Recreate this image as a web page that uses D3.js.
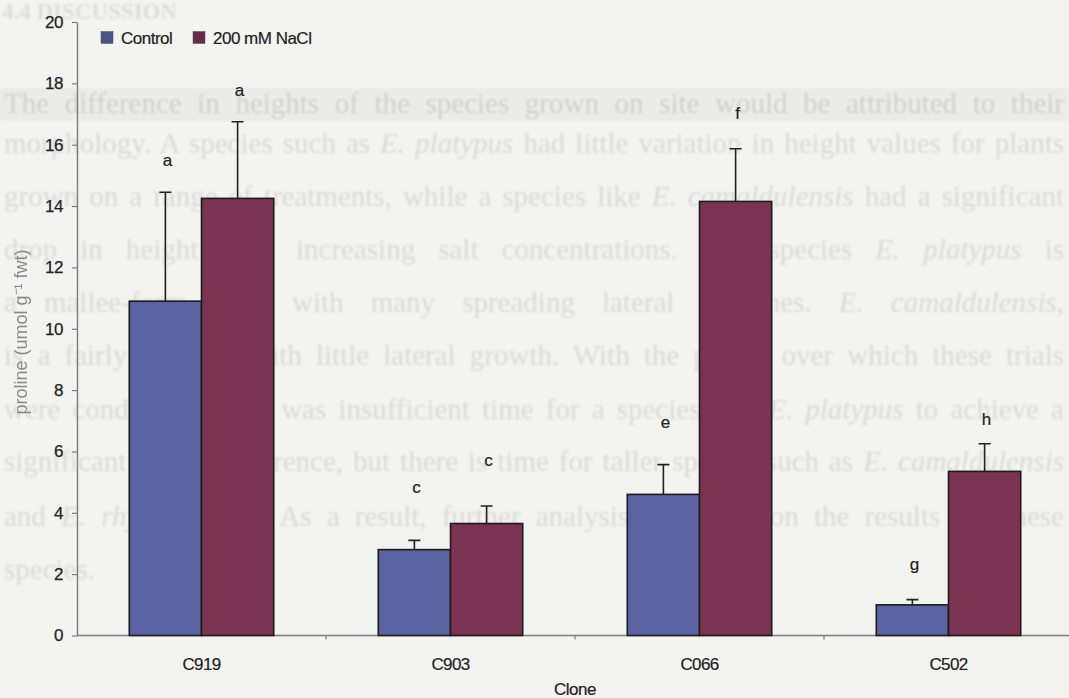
<!DOCTYPE html>
<html>
<head>
<meta charset="utf-8">
<script src="https://cdn.jsdelivr.net/npm/d3@7"></script>
<style>
  html, body { margin: 0; padding: 0; background: #f3f3ef; }
  svg { display: block; }
  .sans { font-family: "Liberation Sans", Arial, Helvetica, sans-serif; }
</style>
</head>
<body>
<svg id="chart" width="1069" height="698"></svg>
<script>
// Proline content of four clones, control vs salt treatment
const clones = ["C919", "C903", "C066", "C502"];
const seriesNames = ["Control", "200 mM NaCl"];
const controlMean = [10.9, 2.8, 4.6, 1.0];
const controlErr  = [3.55, 0.3, 0.97, 0.17];
const naclMean    = [14.25, 3.65, 14.15, 5.35];
const naclErr     = [2.5, 0.57, 1.72, 0.9];
// significance letters and the height (in axis units) they sit at
const controlLetters = ["a", "c", "e", "g"];
const naclLetters    = ["a", "c", "f", "h"];
const controlLetterY = [15.3, 4.65, 6.77, 2.15];
const naclLetterY    = [17.6, 5.53, 16.85, 6.87];
const yTicks = [0, 2, 4, 6, 8, 10, 12, 14, 16, 18, 20];
const yTitle = "proline (umol g\u207B\u00B9 fwt)";
const xTitle = "Clone";

// printed page text lying underneath the figure (italic parts flagged true)
const pageHeading = "4.4 DISCUSSION";
const pageLines = [
  { y: 113, justify: true, band: true, parts: [["The difference in heights of the species grown on site would be attributed to their", false]] },
  { y: 153, justify: true, parts: [["morphology. A species such as ", false], ["E. platypus", true], [" had little variation in height values for plants", false]] },
  { y: 206, justify: true, parts: [["grown on a range of treatments, while a species like ", false], ["E. camaldulensis", true], [" had a significant", false]] },
  { y: 259, justify: true, parts: [["drop in height with increasing salt concentrations. The species ", false], ["E. platypus", true], [" is", false]] },
  { y: 312, justify: true, parts: [["a mallee-form tree, with many spreading lateral branches. ", false], ["E. camaldulensis", true], [",", false]] },
  { y: 365, justify: true, parts: [["is a fairly tall tree with little lateral growth. With the period over which these trials", false]] },
  { y: 419, justify: true, parts: [["were conducted, there was insufficient time for a species like ", false], ["E. platypus", true], [" to achieve a", false]] },
  { y: 471, justify: true, parts: [["significant height difference, but there is time for taller species such as ", false], ["E. camaldulensis", true]] },
  { y: 526, justify: true, parts: [["and ", false], ["E. rhynchocorys", true], [". As a result, further analysis is placed on the results for these", false]] },
  { y: 579, justify: false, parts: [["species.", false]] }
];

const svg = d3.select("#chart");
const W = 1069, H = 698;

const defs = svg.append("defs");
defs.append("filter").attr("id", "soft")
  .attr("x", "-5%").attr("y", "-20%").attr("width", "110%").attr("height", "140%")
  .append("feGaussianBlur").attr("stdDeviation", 1.2);
defs.append("filter").attr("id", "softer").append("feGaussianBlur").attr("stdDeviation", 0.6);

svg.append("rect").attr("width", W).attr("height", H).attr("fill", "#f3f3ef");

// faint printed page
const page = svg.append("g").attr("filter", "url(#soft)")
  .style("font-family", "'Liberation Serif', 'Times New Roman', serif");

page.append("rect")
  .attr("x", 0).attr("y", 88).attr("width", W).attr("height", 33)
  .attr("fill", "#ebebe7");

page.append("text")
  .attr("x", 2).attr("y", 19)
  .attr("font-size", 23).attr("font-weight", "bold")
  .attr("fill", "#dededa")
  .text(pageHeading);

const lineLeft = 4, lineWidth = 1060;
pageLines.forEach(l => {
  const t = page.append("text")
    .attr("x", lineLeft).attr("y", l.y)
    .attr("font-size", 29)
    .attr("fill", l.band ? "#d0d0cc" : "#dbdbd7");
  l.parts.forEach(p => t.append("tspan").attr("font-style", p[1] ? "italic" : "normal").text(p[0]));
  if (l.justify) {
    // justify by widening the word gaps
    const natural = t.node().getComputedTextLength();
    const gaps = l.parts.map(p => p[0]).join("").split(" ").length - 1;
    const extra = (lineWidth - natural) / Math.max(gaps, 1);
    if (extra > 0) t.attr("word-spacing", extra);
    else t.attr("textLength", lineWidth).attr("lengthAdjust", "spacingAndGlyphs");
  }
});

// scales
const y = d3.scaleLinear().domain([0, 20]).range([635.5, 22]);
const x = d3.scaleBand().domain(clones).range([77, 1073]).paddingInner(0.42).paddingOuter(0.21);
const xs = d3.scaleBand().domain(seriesNames).range([0, x.bandwidth()]);
const color = d3.scaleOrdinal().domain(seriesNames).range(["#5a62a1", "#7b3352"]);

const rows = clones.map((c, i) => ({
  clone: c,
  values: [
    { s: seriesNames[0], v: controlMean[i], e: controlErr[i], l: controlLetters[i], ly: controlLetterY[i] },
    { s: seriesNames[1], v: naclMean[i], e: naclErr[i], l: naclLetters[i], ly: naclLetterY[i] }
  ]
}));

const chart = svg.append("g").attr("class", "sans");

// y axis
const yAxis = chart.append("g")
  .attr("transform", "translate(77,0)")
  .call(d3.axisLeft(y).tickValues(yTicks).tickSize(5).tickSizeOuter(0).tickPadding(9));
yAxis.select(".domain").attr("stroke", "#7c7c7c").attr("stroke-width", 1.4);
yAxis.selectAll(".tick line").attr("stroke", "#7c7c7c").attr("stroke-width", 1.2);
yAxis.selectAll(".tick text")
  .attr("fill", "#222").attr("font-size", 17).attr("letter-spacing", "-0.4px")
  .attr("stroke", "#222").attr("stroke-width", 0.25)
  .style("font-family", "'Liberation Sans', Arial, sans-serif");

// x axis: clone names at the centres, tick marks between groups
const xAxis = chart.append("g")
  .attr("transform", `translate(0,${y(0)})`)
  .call(d3.axisBottom(x).tickSize(0).tickPadding(22));
xAxis.select(".domain").remove();
xAxis.selectAll(".tick text")
  .attr("fill", "#222").attr("font-size", 17).attr("letter-spacing", "-0.6px")
  .attr("stroke", "#222").attr("stroke-width", 0.2)
  .style("font-family", "'Liberation Sans', Arial, sans-serif");
xAxis.append("line")
  .attr("x1", 77).attr("x2", W).attr("y1", 0).attr("y2", 0)
  .attr("stroke", "#7c7c7c").attr("stroke-width", 1.4);
xAxis.selectAll(".sep")
  .data(clones.slice(1))
  .join("line")
  .attr("class", "sep")
  .attr("x1", d => x(d) - x.step() * x.paddingInner() / 2)
  .attr("x2", d => x(d) - x.step() * x.paddingInner() / 2)
  .attr("y1", 0).attr("y2", 4)
  .attr("stroke", "#7c7c7c").attr("stroke-width", 1.2);

// bars, error bars and letters
const groups = chart.selectAll(".grp")
  .data(rows)
  .join("g")
  .attr("class", "grp")
  .attr("transform", d => `translate(${x(d.clone)},0)`);

groups.selectAll("rect")
  .data(d => d.values)
  .join("rect")
  .attr("x", d => xs(d.s))
  .attr("y", d => y(d.v))
  .attr("width", xs.bandwidth())
  .attr("height", d => y(0) - y(d.v))
  .attr("fill", d => color(d.s))
  .attr("stroke", "#1c1c1c")
  .attr("stroke-width", 1.6);

const cap = 6;
groups.selectAll(".err")
  .data(d => d.values)
  .join("path")
  .attr("class", "err")
  .attr("d", d => {
    const cx = xs(d.s) + xs.bandwidth() / 2;
    return `M${cx},${y(d.v)}V${y(d.v + d.e)}M${cx - cap},${y(d.v + d.e)}H${cx + cap}`;
  })
  .attr("fill", "none")
  .attr("stroke", "#222")
  .attr("stroke-width", 1.6);

groups.selectAll(".letter")
  .data(d => d.values)
  .join("text")
  .attr("class", "letter")
  .attr("x", d => xs(d.s) + xs.bandwidth() / 2 + 2)
  .attr("y", d => y(d.ly))
  .attr("text-anchor", "middle")
  .attr("font-size", 17)
  .attr("fill", "#222")
  .attr("stroke", "#222").attr("stroke-width", 0.2)
  .text(d => d.l);

// axis titles
chart.append("text")
  .attr("transform", `translate(27,${332}) rotate(-90)`)
  .attr("text-anchor", "middle")
  .attr("font-size", 18)
  .attr("fill", "#8a8a8a")
  .attr("filter", "url(#softer)")
  .text(yTitle);

chart.append("text")
  .attr("x", (77 + 1073) / 2)
  .attr("y", 695)
  .attr("text-anchor", "middle")
  .attr("font-size", 17)
  .attr("letter-spacing", "-0.5px")
  .attr("fill", "#222")
  .attr("stroke", "#222").attr("stroke-width", 0.2)
  .text(xTitle);

// legend
const legendX = [101, 193];
const legend = chart.append("g");
seriesNames.forEach((s, i) => {
  legend.append("rect")
    .attr("x", legendX[i]).attr("y", 31.5)
    .attr("width", 12).attr("height", 12)
    .attr("fill", d3.color(color(s)).darker(0.5))
    .attr("stroke", "#555").attr("stroke-width", 0.5);
  legend.append("text")
    .attr("x", legendX[i] + 20).attr("y", 43.5)
    .attr("font-size", 17)
    .attr("letter-spacing", "-0.5px")
    .attr("fill", "#222")
    .attr("stroke", "#222").attr("stroke-width", 0.2)
    .text(s);
});
</script>
</body>
</html>
